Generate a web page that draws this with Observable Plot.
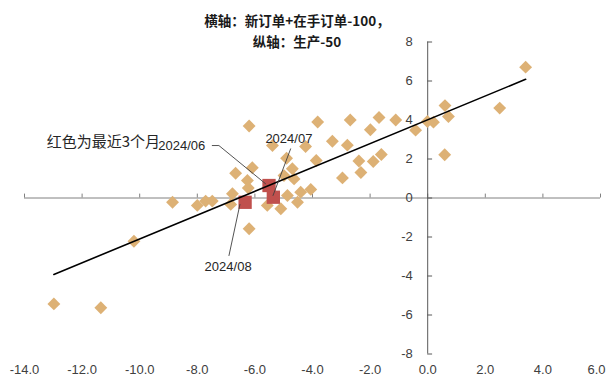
<!DOCTYPE html>
<html><head><meta charset="utf-8">
<script src="https://cdn.jsdelivr.net/npm/d3@7"></script>
<script src="https://cdn.jsdelivr.net/npm/@observablehq/plot@0.6"></script>
<style>
html,body{margin:0;padding:0;background:#fff;}
#wrap{position:relative;width:606px;height:376px;}
#title{position:absolute;left:0;top:10px;width:594px;text-align:center;font-family:"Noto Sans CJK SC",sans-serif;font-weight:bold;font-size:13.5px;line-height:20.5px;color:#1a1a1a;z-index:2;pointer-events:none;}
#chart{position:absolute;left:0;top:0;}
</style></head><body>
<div id="wrap">
  <div id="title"><div>横轴：新订单+在手订单-100，</div><div>纵轴：生产-50</div></div>
  <div id="chart"></div>
</div>
<script>
// Scatter: x = 新订单+在手订单-100, y = 生产-50
const pointX = [-12.98,-11.35,-10.2,-8.86,-8.0,-7.71,-7.48,-6.78,-6.84,-6.67,-6.26,-6.09,-6.23,-6.2,-6.2,
  -5.57,-5.1,-4.87,-4.52,-4.41,-4.06,-4.64,-4.99,-4.7,-4.9,-5.39,-4.24,-3.82,-3.31,-2.79,-3.87,-2.96,
  -2.39,-2.32,-2.69,-1.99,-1.69,-1.89,-1.61,-1.11,-0.42,-0.01,0.2,0.6,0.72,0.59,2.5,3.4];
const pointY = [-5.43,-5.63,-2.22,-0.22,-0.38,-0.16,-0.16,0.22,-0.33,1.27,0.9,1.55,0.51,-1.58,3.69,
  -0.38,-0.55,0.13,-0.22,0.3,0.44,0.98,1.15,1.5,2.04,2.69,2.64,3.9,2.91,2.71,1.92,1.03,
  1.9,1.31,4.0,3.5,4.13,1.87,2.23,4.0,3.48,3.92,3.89,4.74,4.18,2.22,4.61,6.71];

// Latest three months (red)
const recentMonths = ["2024/06","2024/07","2024/08"];
const recentX = [-5.51,-5.36,-6.34];
const recentY = [0.64,0.04,-0.22];
const labelX = [-8.54,-4.82,-6.93];
const labelY = [2.69,3.04,-3.55];
const leaderX = [[-7.48,-7.25,-5.63],[-4.76,-5.37],[-6.9,-6.52]];
const leaderY = [[2.69,2.69,0.73],[2.52,0.13],[-2.95,-0.33]];

const noteText = "红色为最近3个月";
const noteX = -13.23, noteY = 2.86;

// Linear fit
const fitSlope = 0.611, fitIntercept = 4.01;

const xTicks = [-14,-12,-10,-8,-6,-4,-2,0,2,4,6];
const yTicks = [-8,-6,-4,-2,0,2,4,6,8];

// ---- build ----
const points = pointX.map((x,i)=>({x, y: pointY[i]}));
const recent = recentMonths.map((m,i)=>({m, x: recentX[i], y: recentY[i], lx: labelX[i], ly: labelY[i]}));
const leaders = leaderX.flatMap((xs,i)=>xs.map((x,j)=>({id:i, x, y: leaderY[i][j]})));
const xMin = d3.min(pointX), xMax = d3.max(pointX);
const fit = [xMin, xMax].map(x=>({x, y: fitSlope*x + fitIntercept}));

const xTickLen = 0.2, yTickLen = 0.17;
const font = "'Liberation Sans', Arial, sans-serif";
const xLast = xTicks[xTicks.length-1];

const chart = Plot.plot({
  width: 606, height: 376,
  marginLeft: 24, marginRight: 6, marginTop: 41.5, marginBottom: 22.5,
  x: {domain: [-14, 6], axis: null},
  y: {domain: [-8, 8], axis: null},
  style: {fontFamily: font, fontSize: "13px", color: "#404040", background: "#fff"},
  marks: [
    Plot.axisX(xTicks.slice(0, -1), {anchor: "bottom", tickSize: 0, tickPadding: 11, tickFormat: d => d.toFixed(1), fill: "#404040", fontSize: 13}),
    Plot.axisX([xLast], {anchor: "bottom", tickSize: 0, tickPadding: 11, tickFormat: d => d.toFixed(1), fill: "#404040", fontSize: 13, dx: -4}),
    Plot.ruleY([0], {stroke: "#808080", strokeWidth: 1}),
    Plot.ruleX(xTicks, {x: d => d, y1: 0, y2: xTickLen, stroke: "#808080"}),
    Plot.ruleX([0], {y1: -8, y2: 8, stroke: "#595959"}),
    Plot.ruleY(yTicks, {y: d => d, x1: 0, x2: yTickLen, stroke: "#595959"}),
    Plot.text(yTicks, {x: 0, y: d => d, text: d => String(d), textAnchor: "end", dx: -15, fill: "#404040", fontSize: 13}),
    Plot.dot(points, {x: "x", y: "y", symbol: "diamond2", r: 5.8, fill: "#DDB175", stroke: "none"}),
    Plot.dot(recent, {x: "x", y: "y", symbol: "square", r: 7.5, fill: "#C0504D", stroke: "none"}),
    Plot.line(fit, {x: "x", y: "y", stroke: "#000", strokeWidth: 1.6}),
    Plot.line(leaders, {x: "x", y: "y", z: "id", stroke: "#404040", strokeWidth: 0.9}),
    Plot.text(recent, {x: "lx", y: "ly", text: "m", fill: "#262626", fontSize: 13, textAnchor: "middle"}),
    Plot.text([noteText], {x: () => noteX, y: () => noteY, text: d => d, textAnchor: "start", fontSize: 15, fill: "#262626", fontFamily: "'Noto Sans CJK SC', sans-serif"})
  ]
});
document.getElementById("chart").appendChild(chart);
</script>
</body></html>
